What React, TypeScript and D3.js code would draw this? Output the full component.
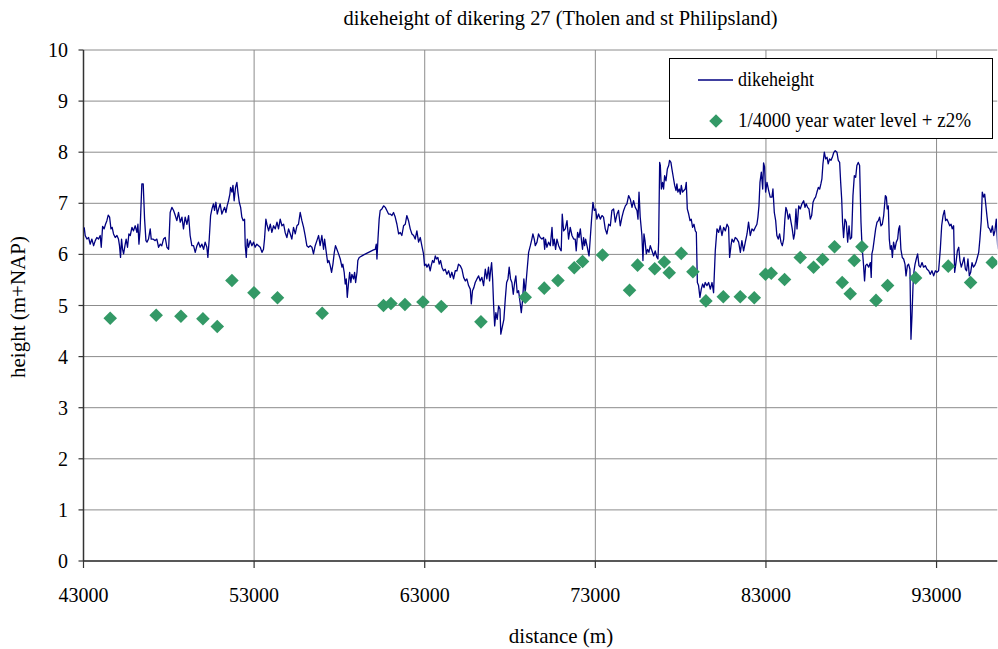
import React from "react";
import * as d3 from "d3";

// Chart texts
const chartTitle = "dikeheight of dikering 27 (Tholen and st Philipsland)";
const xAxisTitle = "distance (m)";
const yAxisTitle = "height (m+NAP)";
const legendLabels = ["dikeheight", "1/4000 year water level + z2%"];

// Axis ticks
const xTicks = [43000, 53000, 63000, 73000, 83000, 93000];
const yTicks = [0, 1, 2, 3, 4, 5, 6, 7, 8, 9, 10];
const xDomain = [43000, 96560];
const yDomain = [0, 10];

// Dike crest height along the ring: [distance (m), height (m+NAP)]
const dikeProfile: [number, number][] = [
  [43040, 6.53], [43100, 6.37], [43200, 6.3], [43300, 6.33], [43390, 6.2], [43490, 6.3], [43590, 6.17], [43690, 6.27],
  [43780, 6.33], [43880, 6.3], [43980, 6.37], [44040, 6.14], [44120, 6.55], [44210, 6.5], [44290, 6.59], [44370, 6.66],
  [44450, 6.77], [44530, 6.73], [44610, 6.5], [44680, 6.53], [44760, 6.4], [44860, 6.33], [44960, 6.37], [45050, 6.3],
  [45110, 6.17], [45170, 5.94], [45230, 6.3], [45290, 6.1], [45350, 6.01], [45430, 6.17], [45500, 6.3], [45580, 6.14],
  [45660, 6.4], [45740, 6.37], [45840, 6.53], [45930, 6.46], [46030, 6.56], [46130, 6.43], [46190, 6.59], [46250, 6.2],
  [46320, 6.5], [46420, 7.38], [46500, 7.38], [46580, 6.69], [46660, 6.27], [46720, 6.24], [46810, 6.3], [46910, 6.5],
  [46970, 6.3], [47070, 6.3], [47200, 6.27], [47300, 6.3], [47400, 6.14], [47500, 6.2], [47590, 6.17], [47690, 6.3],
  [47790, 6.33], [47890, 6.14], [47990, 6.1], [48080, 6.82], [48180, 6.92], [48280, 6.86], [48380, 6.76], [48470, 6.66],
  [48570, 6.82], [48670, 6.63], [48770, 6.73], [48860, 6.5], [48960, 6.73], [49060, 6.59], [49160, 6.76], [49250, 6.37],
  [49350, 6.17], [49450, 6.17], [49550, 6.04], [49650, 6.17], [49740, 6.24], [49840, 6.14], [49940, 6.2], [50040, 6.1],
  [50130, 6.24], [50230, 6.14], [50290, 5.94], [50370, 6.3], [50450, 6.76], [50530, 6.89], [50620, 6.99], [50680, 6.86],
  [50760, 7.02], [50840, 6.79], [50920, 6.89], [51010, 6.99], [51110, 6.79], [51190, 6.86], [51270, 6.92], [51350, 6.82],
  [51420, 6.95], [51500, 7.05], [51580, 7.18], [51620, 7.31], [51700, 7.22], [51760, 7.35], [51830, 7.05], [51910, 7.31],
  [51990, 7.41], [52050, 7.22], [52130, 7.02], [52210, 6.92], [52280, 6.73], [52360, 6.66], [52440, 6.69], [52480, 6.17],
  [52540, 5.94], [52600, 6.3], [52670, 6.14], [52770, 6.27], [52870, 6.17], [52970, 6.24], [53060, 6.14], [53160, 6.2],
  [53260, 6.17], [53360, 6.14], [53460, 6.04], [53550, 6.1], [53610, 6.3], [53690, 6.69], [53750, 6.59], [53850, 6.46],
  [53950, 6.59], [54040, 6.43], [54140, 6.56], [54240, 6.5], [54340, 6.63], [54430, 6.5], [54530, 6.69], [54630, 6.56],
  [54730, 6.59], [54820, 6.43], [54920, 6.33], [55020, 6.5], [55120, 6.4], [55210, 6.3], [55310, 6.53], [55410, 6.4],
  [55510, 6.56], [55600, 6.59], [55700, 6.82], [55800, 6.66], [55900, 6.53], [55990, 6.37], [56090, 6.17], [56190, 6.14],
  [56290, 6.17], [56390, 6.14], [56480, 6.01], [56580, 6.17], [56680, 6.27], [56780, 6.37], [56870, 6.17], [56970, 6.37],
  [57070, 6.1], [57130, 6.3], [57230, 6.04], [57310, 5.84], [57380, 5.88], [57460, 5.78], [57540, 5.65], [57620, 5.81],
  [57700, 6.04], [57770, 6.17], [57850, 6.1], [57950, 6.01], [58050, 5.91], [58150, 5.75], [58200, 5.81], [58280, 5.65],
  [58340, 5.42], [58400, 5.52], [58460, 5.16], [58520, 5.39], [58600, 5.65], [58670, 5.45], [58730, 5.61], [58830, 5.52],
  [58890, 5.65], [58950, 5.45], [59030, 5.65], [59080, 5.88], [59160, 5.94], [59420, 5.99], [59710, 6.04], [60000, 6.09],
  [60100, 6.1], [60160, 6.2], [60200, 5.91], [60260, 6.3], [60330, 6.69], [60390, 6.86], [60490, 6.89], [60590, 6.95],
  [60690, 6.92], [60780, 6.86], [60880, 6.79], [60980, 6.79], [61080, 6.76], [61170, 6.82], [61270, 6.73], [61370, 6.59],
  [61470, 6.4], [61560, 6.43], [61660, 6.37], [61760, 6.56], [61860, 6.59], [61950, 6.76], [62050, 6.66], [62150, 6.5],
  [62250, 6.4], [62350, 6.37], [62440, 6.3], [62540, 6.46], [62640, 6.24], [62740, 6.33], [62830, 6.17], [62930, 6.01],
  [62990, 5.78], [63070, 5.81], [63130, 5.75], [63230, 5.81], [63320, 5.68], [63380, 5.78], [63460, 5.88], [63540, 5.84],
  [63620, 5.97], [63690, 5.91], [63770, 5.94], [63850, 5.81], [63930, 5.88], [64010, 5.75], [64100, 5.68], [64200, 5.71],
  [64300, 5.61], [64400, 5.68], [64500, 5.55], [64590, 5.65], [64690, 5.52], [64790, 5.68], [64890, 5.68], [64980, 5.81],
  [65080, 5.78], [65180, 5.71], [65280, 5.55], [65380, 5.48], [65470, 5.52], [65570, 5.39], [65670, 5.32], [65730, 5.03],
  [65800, 5.29], [65880, 5.35], [65960, 5.45], [66060, 5.52], [66160, 5.58], [66250, 5.48], [66350, 5.55], [66450, 5.39],
  [66550, 5.71], [66640, 5.52], [66740, 5.75], [66800, 5.48], [66860, 5.68], [66920, 5.84], [66980, 5.52], [67040, 4.99],
  [67100, 4.6], [67170, 4.86], [67250, 4.73], [67330, 4.99], [67410, 4.93], [67460, 4.44], [67560, 4.6], [67640, 4.73],
  [67720, 5.12], [67800, 5.45], [67880, 5.52], [67950, 5.75], [68030, 5.52], [68110, 5.45], [68190, 5.22], [68270, 5.45],
  [68340, 5.58], [68420, 5.25], [68500, 5.29], [68600, 5.03], [68660, 4.86], [68740, 5.12], [68810, 5.52], [68890, 5.25],
  [68990, 5.65], [69090, 6.04], [69190, 6.17], [69280, 6.3], [69340, 6.4], [69420, 6.3], [69480, 6.17], [69580, 6.24],
  [69670, 6.4], [69770, 6.33], [69870, 6.3], [69970, 6.33], [70030, 6.1], [70080, 6.3], [70160, 6.14], [70260, 6.24],
  [70360, 6.17], [70460, 6.53], [70520, 6.17], [70590, 6.3], [70670, 6.1], [70750, 6.3], [70850, 6.17], [70940, 6.1],
  [71000, 6.07], [71060, 6.79], [71140, 6.46], [71240, 6.5], [71340, 6.66], [71430, 6.3], [71530, 6.53], [71630, 6.37],
  [71730, 6.3], [71820, 6.3], [71880, 6.07], [71960, 6.43], [72040, 6.33], [72120, 6.5], [72200, 6.24], [72250, 6.1],
  [72310, 6.33], [72370, 6.17], [72430, 6.3], [72510, 6.17], [72570, 6.07], [72630, 5.97], [72700, 6.3], [72780, 6.69],
  [72860, 7.02], [72940, 6.86], [73020, 6.89], [73090, 6.69], [73190, 6.79], [73290, 6.69], [73390, 6.76], [73480, 6.73],
  [73580, 6.5], [73680, 6.4], [73780, 6.59], [73880, 6.56], [73970, 6.86], [74070, 6.89], [74170, 6.63], [74270, 6.79],
  [74360, 6.86], [74460, 6.56], [74560, 6.73], [74660, 6.86], [74760, 6.95], [74850, 6.99], [74950, 7.15], [75050, 7.08],
  [75150, 6.92], [75240, 7.05], [75340, 6.92], [75440, 6.86], [75500, 6.69], [75560, 7.22], [75630, 6.73], [75730, 6.37],
  [75790, 5.88], [75850, 6.4], [75910, 6.27], [75990, 6.01], [76060, 6.1], [76140, 6.04], [76220, 6.17], [76320, 6.07],
  [76420, 5.97], [76510, 6.07], [76610, 5.94], [76670, 5.91], [76710, 6.24], [76770, 7.8], [76810, 7.74], [76870, 7.28],
  [76940, 7.41], [77000, 7.28], [77060, 7.54], [77140, 7.44], [77220, 7.67], [77300, 7.74], [77350, 7.84], [77430, 7.8],
  [77490, 7.67], [77570, 7.51], [77650, 7.35], [77730, 7.25], [77780, 7.38], [77840, 7.22], [77920, 7.28], [77980, 7.18],
  [78040, 7.35], [78110, 7.22], [78190, 7.25], [78270, 7.28], [78330, 7.41], [78390, 6.89], [78470, 6.79], [78550, 6.66],
  [78620, 6.69], [78700, 6.53], [78780, 6.59], [78860, 6.46], [78920, 6.43], [78980, 5.45], [79050, 5.39], [79130, 5.16],
  [79210, 5.32], [79290, 5.42], [79370, 5.35], [79440, 5.45], [79540, 5.39], [79640, 5.45], [79740, 5.32], [79840, 5.45],
  [79930, 5.25], [80030, 6.07], [80130, 6.5], [80230, 6.43], [80320, 6.56], [80420, 6.37], [80520, 6.53], [80620, 6.46],
  [80720, 6.59], [80810, 6.53], [80870, 5.94], [80950, 6.17], [81010, 6.3], [81110, 6.24], [81200, 6.33], [81300, 6.3],
  [81400, 6.24], [81500, 6.04], [81590, 6.27], [81690, 6.07], [81790, 6.24], [81890, 6.4], [81980, 6.63], [82080, 6.37],
  [82180, 6.5], [82280, 6.46], [82380, 6.53], [82470, 6.59], [82530, 6.73], [82590, 6.95], [82650, 7.41], [82730, 7.61],
  [82810, 7.28], [82860, 7.79], [82920, 7.71], [82980, 7.22], [83060, 7.41], [83160, 7.25], [83250, 7.12], [83350, 7.12],
  [83410, 7.28], [83490, 6.82], [83570, 6.66], [83640, 6.37], [83720, 6.3], [83800, 6.4], [83880, 6.24], [83960, 6.17],
  [84040, 6.3], [84110, 6.69], [84170, 6.92], [84230, 6.86], [84310, 6.69], [84390, 6.79], [84470, 6.63], [84540, 6.5],
  [84620, 6.3], [84680, 6.4], [84760, 6.89], [84820, 6.5], [84920, 6.95], [85010, 6.89], [85110, 6.99], [85210, 7.05],
  [85290, 6.92], [85360, 6.99], [85440, 6.92], [85520, 6.89], [85600, 6.69], [85680, 6.76], [85760, 7.02], [85830, 7.08],
  [85910, 7.12], [85990, 7.22], [86070, 7.31], [86150, 7.28], [86220, 7.38], [86280, 7.48], [86340, 7.77], [86420, 8.0],
  [86500, 7.87], [86580, 7.9], [86650, 7.77], [86730, 7.87], [86810, 7.84], [86890, 7.9], [86970, 7.99], [87060, 8.03],
  [87160, 8.0], [87240, 7.84], [87320, 7.8], [87380, 7.41], [87440, 7.08], [87490, 6.63], [87550, 6.33], [87630, 6.69],
  [87710, 6.63], [87790, 6.24], [87870, 6.56], [87940, 6.3], [88020, 6.33], [88100, 7.15], [88180, 7.54], [88260, 7.51],
  [88330, 7.74], [88410, 7.8], [88490, 7.74], [88570, 6.63], [88630, 6.17], [88710, 5.84], [88780, 5.48], [88840, 5.78],
  [88920, 5.81], [89020, 5.75], [89120, 5.84], [89170, 5.55], [89210, 6.01], [89270, 6.1], [89350, 6.3], [89430, 6.5],
  [89510, 6.63], [89590, 6.66], [89660, 6.73], [89740, 6.56], [89820, 6.59], [89900, 6.76], [90000, 7.15], [90060, 7.12],
  [90110, 6.89], [90170, 6.95], [90230, 6.3], [90290, 6.1], [90350, 6.17], [90410, 5.94], [90480, 6.24], [90560, 6.1],
  [90640, 6.24], [90720, 6.3], [90780, 6.5], [90840, 6.56], [90910, 6.1], [90990, 5.94], [91070, 5.91], [91150, 5.81],
  [91210, 5.58], [91290, 5.78], [91360, 5.81], [91440, 5.71], [91500, 4.34], [91560, 4.8], [91620, 5.39], [91680, 5.68],
  [91740, 5.81], [91810, 5.91], [91890, 6.01], [91970, 5.78], [92050, 5.75], [92150, 5.84], [92240, 5.75], [92340, 5.78],
  [92440, 5.71], [92540, 5.68], [92630, 5.61], [92730, 5.68], [92830, 5.58], [92930, 5.68], [93020, 5.65], [93120, 5.68],
  [93220, 6.1], [93300, 6.56], [93380, 6.76], [93460, 6.86], [93530, 6.66], [93610, 6.69], [93690, 6.63], [93770, 6.56],
  [93850, 6.59], [93920, 6.5], [94000, 6.56], [94060, 5.65], [94140, 5.84], [94220, 6.07], [94300, 6.14], [94370, 5.88],
  [94450, 5.75], [94530, 5.84], [94610, 5.94], [94690, 5.71], [94760, 5.68], [94840, 5.91], [94920, 5.58], [95000, 5.65],
  [95080, 5.84], [95160, 5.75], [95230, 5.78], [95310, 5.84], [95390, 5.94], [95470, 6.04], [95540, 6.3], [95620, 6.66],
  [95680, 7.22], [95760, 7.12], [95820, 7.18], [95880, 6.99], [95960, 6.73], [96030, 6.53], [96110, 6.5], [96190, 6.43],
  [96270, 6.56], [96350, 6.37], [96420, 6.46], [96500, 6.69], [96580, 6.17], [96620, 6.1],
];

// Design water level (1/4000 year + z2%) at the check locations
const waterDistance = [
  44565, 47260, 48710, 50000, 50840, 51700, 52990, 54370, 56990, 60585, 61020, 61840, 62895, 63970, 66295, 68890,
  70005, 70810, 71765, 72250, 73420, 75005, 75475, 76480, 77040, 77330, 78035, 78720, 79480, 80500, 81495, 82315,
  82975, 83310, 84090, 85010, 85790, 86320, 87020, 87470, 87940, 88175, 88625, 89450, 90130, 91770, 93685, 94995, 96265,
];
const waterLevel = [
  4.75, 4.81, 4.79, 4.74, 4.59, 5.49, 5.25, 5.15, 4.85, 5.0, 5.04, 5.02, 5.07, 4.98, 4.68, 5.16,
  5.34, 5.49, 5.74, 5.86, 5.99, 5.3, 5.79, 5.72, 5.85, 5.64, 6.02, 5.66, 5.09, 5.17, 5.17, 5.15,
  5.61, 5.63, 5.51, 5.94, 5.75, 5.9, 6.15, 5.45, 5.23, 5.88, 6.15, 5.1, 5.39, 5.54, 5.77, 5.45, 5.84,
];

const W = 998;
const H = 649;
const plot = { left: 83.5, right: 997.3, top: 50, bottom: 561 };
const FONT = "Liberation Serif";
const FONT_SIZE = 20;
const LINE_COLOR = "#000080";
const MARKER_COLOR = "#339966";
const GRID_COLOR = "#8c8c8c";
const AXIS_COLOR = "#333";
const textStyle = { fontFamily: FONT };

export default function App() {
  const x = d3.scaleLinear().domain(xDomain).range([plot.left, plot.right]);
  const y = d3.scaleLinear().domain(yDomain).range([plot.bottom, plot.top]);

  const linePath =
    d3
      .line<[number, number]>()
      .x((d) => x(d[0]))
      .y((d) => y(d[1]))(dikeProfile) ?? "";

  const diamond = d3.symbol().type(d3.symbolSquare).size(92)() ?? "";

  return (
    <svg
      width={W}
      height={H}
      viewBox={`0 0 ${W} ${H}`}
      style={{ position: "absolute", left: 0, top: 0, background: "#fff" }}
    >
      <defs>
        <clipPath id="plot-clip">
          <rect x={plot.left} y={plot.top - 2} width={plot.right - plot.left} height={plot.bottom - plot.top + 4} />
        </clipPath>
      </defs>

      <text x={560.5} y={24.5} textAnchor="middle" fontSize={FONT_SIZE} fill="#000" style={textStyle}
        textLength={434} lengthAdjust="spacingAndGlyphs">
        {chartTitle}
      </text>

      {/* horizontal grid */}
      {yTicks.map((t) => (
        <line key={`gy${t}`} x1={plot.left} x2={plot.right} y1={y(t)} y2={y(t)} stroke={GRID_COLOR} strokeWidth={1} />
      ))}
      {/* vertical grid */}
      {xTicks.slice(1).map((t) => (
        <line key={`gx${t}`} x1={x(t)} x2={x(t)} y1={plot.top} y2={plot.bottom} stroke={GRID_COLOR} strokeWidth={1} />
      ))}

      {/* axes */}
      <line x1={plot.left} x2={plot.left} y1={plot.top} y2={plot.bottom} stroke={AXIS_COLOR} strokeWidth={1.5} />
      <line x1={plot.left} x2={plot.right} y1={plot.bottom} y2={plot.bottom} stroke={AXIS_COLOR} strokeWidth={1.5} />
      {yTicks.map((t) => (
        <g key={`ty${t}`}>
          <line x1={plot.left - 5} x2={plot.left} y1={y(t)} y2={y(t)} stroke={AXIS_COLOR} strokeWidth={1.2} />
          <text x={68} y={y(t)} dy="0.35em" textAnchor="end" fontSize={FONT_SIZE} fill="#000" style={textStyle}>
            {t}
          </text>
        </g>
      ))}
      {xTicks.map((t) => (
        <g key={`tx${t}`}>
          <line x1={x(t)} x2={x(t)} y1={plot.bottom} y2={plot.bottom + 7} stroke={AXIS_COLOR} strokeWidth={1.2} />
          <text x={x(t)} y={601.5} textAnchor="middle" fontSize={FONT_SIZE} fill="#000" style={textStyle}>
            {t}
          </text>
        </g>
      ))}

      <text x={561} y={643} textAnchor="middle" fontSize={21} fill="#000" style={textStyle}>
        {xAxisTitle}
      </text>
      <text
        transform={`translate(25, 307) rotate(-90)`}
        textAnchor="middle"
        fontSize={21}
        fill="#000"
        style={textStyle}
      >
        {yAxisTitle}
      </text>

      <g clipPath="url(#plot-clip)">
        <path d={linePath} fill="none" stroke={LINE_COLOR} strokeWidth={1.3} strokeLinejoin="round" />
        {waterDistance.map((d, i) => (
          <path
            key={`w${i}`}
            d={diamond}
            transform={`translate(${x(d)}, ${y(waterLevel[i])}) rotate(45)`}
            fill={MARKER_COLOR}
          />
        ))}
      </g>

      {/* legend */}
      <g>
        <rect x={669.5} y={58.5} width={323} height={80} fill="#fff" stroke="#000" strokeWidth={1} />
        <line x1={698} x2={733} y1={80} y2={80} stroke={LINE_COLOR} strokeWidth={1.3} />
        <text x={738} y={86} fontSize={FONT_SIZE} fill="#000" style={textStyle}
          textLength={76} lengthAdjust="spacingAndGlyphs">
          {legendLabels[0]}
        </text>
        <path d={diamond} transform="translate(716, 121) rotate(45)" fill={MARKER_COLOR} />
        <text x={738} y={127} fontSize={FONT_SIZE} fill="#000" style={textStyle}
          textLength={233} lengthAdjust="spacingAndGlyphs">
          {legendLabels[1]}
        </text>
      </g>
    </svg>
  );
}
